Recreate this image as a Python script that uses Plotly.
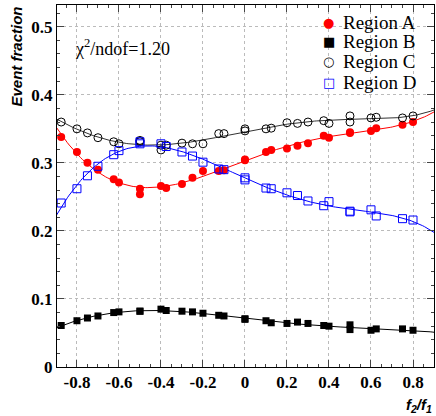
import numpy as np
import plotly.graph_objects as go

x = [-0.875,-0.8,-0.75,-0.7,-0.625,-0.6,-0.5,-0.5,-0.4,-0.375,-0.3,-0.25,-0.2,-0.125,-0.1,
     0,0,0.1,0.125,0.2,0.25,0.3,0.375,0.4,0.5,0.5,0.6,0.625,0.75,0.8]
region_a = [0.338,0.316,0.300,0.290,0.276,0.271,0.262,0.254,0.266,0.263,0.269,0.278,0.288,0.288,0.289,
            0.304,0.305,0.316,0.319,0.321,0.325,0.329,0.340,0.337,0.344,0.345,0.347,0.351,0.356,0.360]
region_b = [0.061,0.068,0.072,0.075,0.080,0.081,0.082,0.082,0.085,0.083,0.082,0.081,0.079,0.076,0.075,
            0.070,0.071,0.068,0.065,0.064,0.066,0.064,0.061,0.060,0.062,0.055,0.054,0.056,0.056,0.054]
region_c = [0.360,0.350,0.344,0.337,0.331,0.328,0.331,0.333,0.319,0.326,0.329,0.328,0.328,0.343,0.343,
            0.350,0.347,0.350,0.351,0.359,0.358,0.360,0.362,0.358,0.369,0.360,0.366,0.367,0.366,0.369]
region_d = [0.241,0.262,0.281,0.295,0.312,0.318,0.328,0.331,0.328,0.324,0.316,0.310,0.301,0.291,0.290,
            0.278,0.275,0.263,0.262,0.256,0.252,0.244,0.237,0.243,0.228,0.229,0.231,0.222,0.218,0.216]
x_c = x + [-0.4]
region_c_full = region_c + [0.326]
legend_names = ["Region A", "Region B", "Region C", "Region D"]
legend_glyphs = ["●", "■", "○", "□"]
legend_colors = ["red", "black", "black", "blue"]

serif = "Liberation Serif, Times New Roman, serif"
sans = "Liberation Sans, Arial, sans-serif"

fig = go.Figure()
xf = np.linspace(-0.9, 0.9, 200)
series = [
    (x, region_a, "red", dict(symbol="circle", color="red", size=8)),
    (x, region_b, "black", dict(symbol="square", color="black", size=7)),
    (x_c, region_c_full, "#333333", dict(symbol="circle-open", color="black", size=8, line=dict(width=1))),
    (x, region_d, "blue", dict(symbol="square-open", color="blue", size=8, line=dict(width=1))),
]
for xs, ys, lc, mk in series:
    coef = np.polyfit(xs, ys, 5)
    fig.add_trace(go.Scatter(x=xf, y=np.polyval(coef, xf), mode="lines",
                             line=dict(color=lc, width=1), showlegend=False, hoverinfo="skip"))
for (xs, ys, lc, mk), name in zip(series, legend_names):
    fig.add_trace(go.Scatter(x=xs, y=ys, mode="markers", name=name, marker=mk, showlegend=False))

annotations = [
    dict(text="χ<sup>2</sup>/ndof=1.20", x=-0.585, y=0.47, xref="x", yref="y",
         showarrow=False, font=dict(family=serif, size=18, color="black")),
    dict(text="<b><i>Event fraction</i></b>", x=-0.11, y=1.0, xref="paper", yref="paper",
         xanchor="center", yanchor="top", textangle=-90, showarrow=False,
         font=dict(family=sans, size=15, color="black")),
    dict(text="<b><i>f<sub>2</sub>/f<sub>1</sub></i></b>", x=1.0, y=-0.075, xref="paper", yref="paper",
         xanchor="right", yanchor="top", showarrow=False,
         font=dict(family=sans, size=15, color="black")),
]
row_y = [0.953, 0.898, 0.843, 0.787]
for name, g, c, yy in zip(legend_names, legend_glyphs, legend_colors, row_y):
    annotations.append(dict(text=g, x=0.721, y=yy, xref="paper", yref="paper", xanchor="center",
                            yanchor="middle", showarrow=False,
                            font=dict(family="DejaVu Sans", size=13, color=c)))
    annotations.append(dict(text=name, x=0.753, y=yy, xref="paper", yref="paper", xanchor="left",
                            yanchor="middle", showarrow=False,
                            font=dict(family=serif, size=19, color="black")))

axis_common = dict(showline=True, linecolor="black", linewidth=1, mirror="ticks",
                   ticks="inside", showgrid=True, gridcolor="#bbbbbb", griddash="dot",
                   zeroline=False, tickfont=dict(family=serif, size=17, color="black"))
fig.update_layout(
    width=436, height=416, margin=dict(l=57, r=2, t=5, b=49),
    paper_bgcolor="white", plot_bgcolor="white", showlegend=False,
    xaxis=dict(range=[-0.895, 0.9], tickvals=[-0.8,-0.6,-0.4,-0.2,0,0.2,0.4,0.6,0.8],
               ticktext=["<b>-0.8</b>","<b>-0.6</b>","<b>-0.4</b>","<b>-0.2</b>","<b>0</b>",
                         "<b>0.2</b>","<b>0.4</b>","<b>0.6</b>","<b>0.8</b>"],
               minor=dict(ticks="inside", dtick=0.05, ticklen=3), ticklen=7, **axis_common),
    yaxis=dict(range=[0, 0.532], tickvals=[0,0.1,0.2,0.3,0.4,0.5],
               ticktext=["<b>0</b>","<b>0.1</b>","<b>0.2</b>","<b>0.3</b>","<b>0.4</b>","<b>0.5</b>"],
               minor=dict(ticks="inside", dtick=0.02, ticklen=3), ticklen=7, **axis_common),
    annotations=annotations,
)
fig.write_html("out.html", config={"displayModeBar": False},
               post_script="document.body.style.margin='0';document.body.style.overflow='hidden';")
